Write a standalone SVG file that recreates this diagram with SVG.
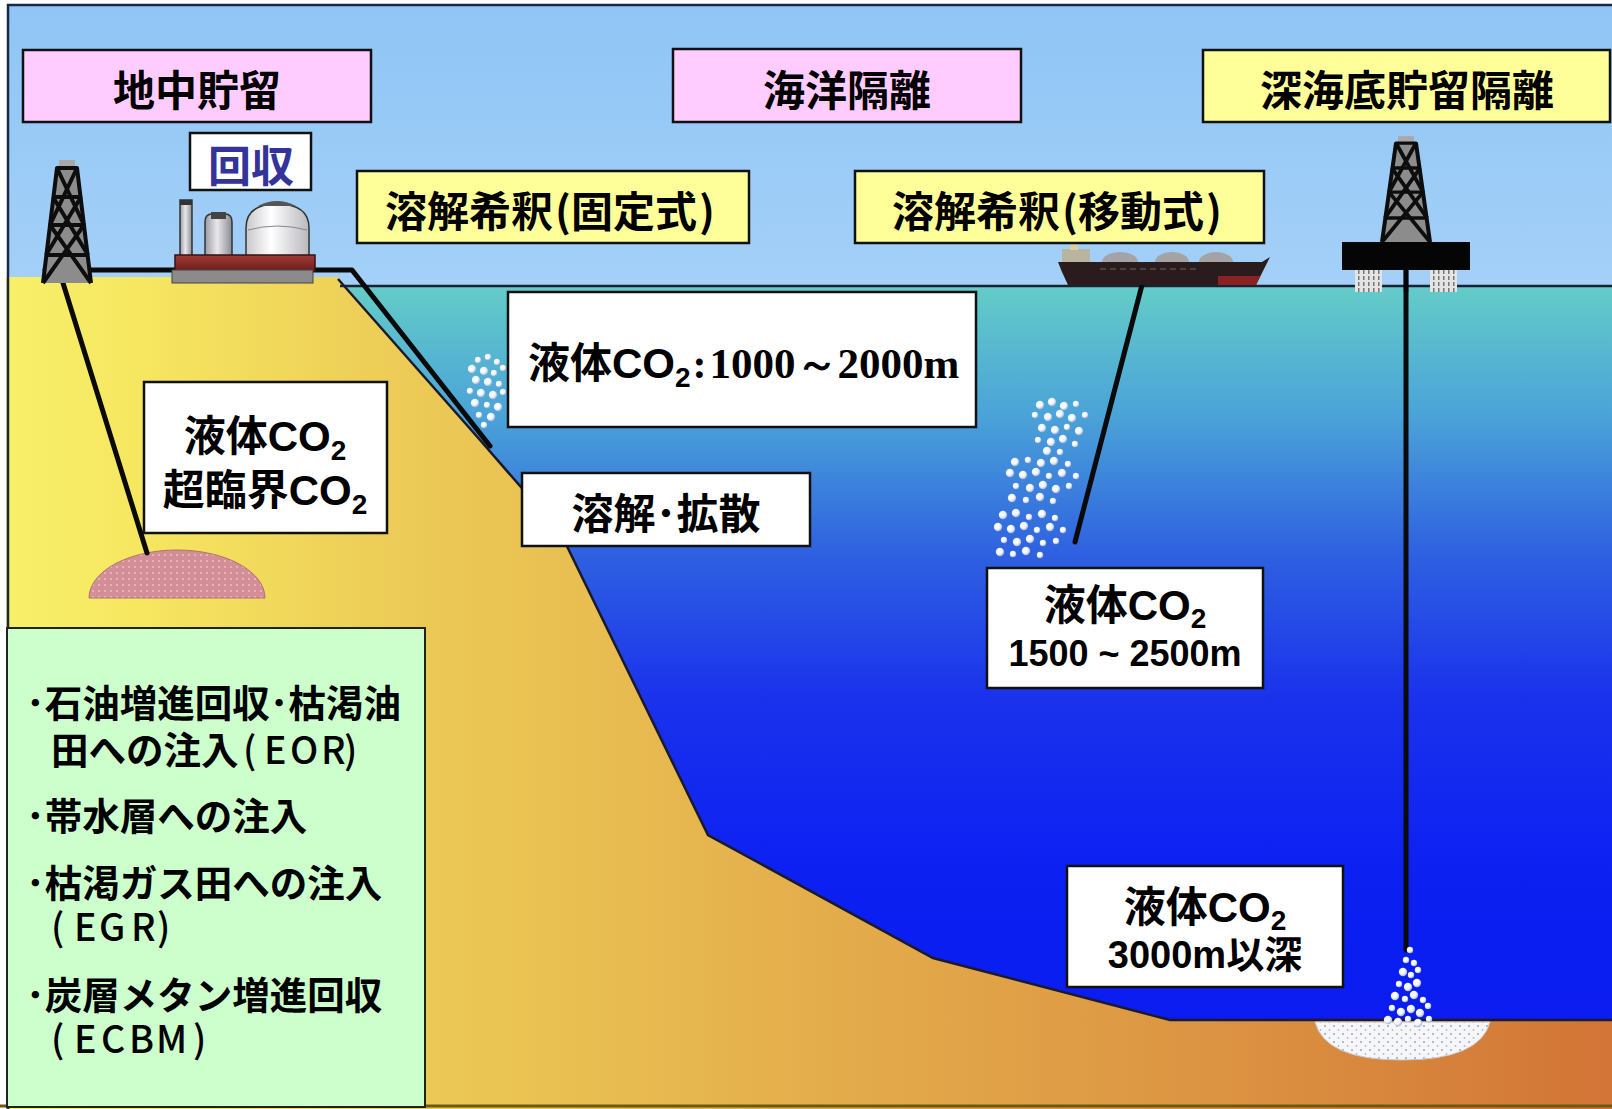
<svg xmlns="http://www.w3.org/2000/svg" width="1612" height="1109" viewBox="0 0 1612 1109">
  <defs>
    <style>
      .jp { font-family: "Noto Sans CJK JP", "Noto Sans CJK SC", sans-serif; font-weight: 700; fill: #000; }
      .lat { font-family: "Liberation Sans", Arial, sans-serif; font-weight: 700; }
      .ser { font-family: "Liberation Serif", "Times New Roman", serif; font-weight: 700; }
      .abbr { font-family: "Noto Sans CJK JP", sans-serif; font-weight: 500; }
      .box { stroke: #111; stroke-width: 2.5; }
      .pink { fill: #ffccff; }
      .yel { fill: #ffff99; }
      .wht { fill: #ffffff; }
      .pipe { fill: none; stroke: #0a0a0a; stroke-width: 5; stroke-linecap: round; stroke-linejoin: round; }
      .rig { fill: none; stroke: #0d0d0d; stroke-width: 4; stroke-linejoin: round; }
    </style>
    <linearGradient id="sky" x1="0" y1="0" x2="0" y2="1">
      <stop offset="0" stop-color="#8fc5f5"/>
      <stop offset="1" stop-color="#a4d0f8"/>
    </linearGradient>
    <linearGradient id="sea" gradientUnits="userSpaceOnUse" x1="0" y1="286" x2="0" y2="1020">
      <stop offset="0" stop-color="#64ccc8"/>
      <stop offset="0.18" stop-color="#4aa2d8"/>
      <stop offset="0.36" stop-color="#2f62e0"/>
      <stop offset="0.56" stop-color="#1a32ec"/>
      <stop offset="0.8" stop-color="#0c20f2"/>
      <stop offset="1" stop-color="#0a1cf0"/>
    </linearGradient>
    <linearGradient id="ground" gradientUnits="userSpaceOnUse" x1="0" y1="0" x2="1612" y2="0">
      <stop offset="0" stop-color="#f8f06a"/>
      <stop offset="0.09" stop-color="#f6e660"/>
      <stop offset="0.25" stop-color="#eccb56"/>
      <stop offset="0.5" stop-color="#e4ae4c"/>
      <stop offset="0.75" stop-color="#dc9442"/>
      <stop offset="1" stop-color="#d27436"/>
    </linearGradient>
    <linearGradient id="deck" x1="0" y1="0" x2="0" y2="1">
      <stop offset="0" stop-color="#a03a36"/>
      <stop offset="1" stop-color="#6e1e1e"/>
    </linearGradient>
    <linearGradient id="tank" x1="0" y1="0" x2="1" y2="0">
      <stop offset="0" stop-color="#9a9aa2"/>
      <stop offset="0.45" stop-color="#e8e8ec"/>
      <stop offset="1" stop-color="#8a8a92"/>
    </linearGradient>
    <linearGradient id="dome" x1="0" y1="0" x2="1" y2="0">
      <stop offset="0" stop-color="#c8c8cc"/>
      <stop offset="0.4" stop-color="#ffffff"/>
      <stop offset="1" stop-color="#b8b8be"/>
    </linearGradient>
    <radialGradient id="bub" cx="0.4" cy="0.4" r="0.6">
      <stop offset="0" stop-color="#ffffff"/>
      <stop offset="0.6" stop-color="#f0f4ff"/>
      <stop offset="1" stop-color="#9fb4d8"/>
    </radialGradient>
    <pattern id="dots" width="6" height="6" patternUnits="userSpaceOnUse">
      <rect width="6" height="6" fill="#d48e98"/>
      <circle cx="3" cy="3" r="1" fill="#e8c0c6"/>
    </pattern>
    <pattern id="speck" width="9" height="8" patternUnits="userSpaceOnUse">
      <rect width="9" height="8" fill="#f6f6f8"/>
      <circle cx="2" cy="2" r="1" fill="#9aa6b8"/>
      <circle cx="6.5" cy="6" r="0.9" fill="#b0bac8"/>
    </pattern>
    <pattern id="legs" width="5" height="6" patternUnits="userSpaceOnUse">
      <rect width="5" height="6" fill="#e4e4e4"/>
      <rect x="3" width="1.5" height="4" fill="#777"/>
    </pattern>
    <circle id="b" r="4.2" fill="url(#bub)"/>
    <circle id="bs" r="3.2" fill="url(#bub)"/>
    <!-- lattice derrick, base centred on origin -->
    <g id="derrick">
      <rect x="-8" y="-123" width="16" height="9" fill="#a8a8a8"/>
      <polygon points="-24,0 -10,-115 10,-115 24,0" fill="#8c8c8c"/>
      <polyline class="rig" points="-24,0 -10,-115 10,-115 24,0"/>
      <path class="rig" d="M-21,-28 H21 M-17,-58 H17 M-14,-86 H14"/>
      <path class="rig" stroke-width="3" d="M-24,0 L17,-58 M24,0 L-17,-58 M-17,-58 L10,-115 M17,-58 L-10,-115 M-21,-28 L14,-86 M21,-28 L-14,-86"/>
    </g>
  </defs>

  <!-- sky -->
  <rect x="8" y="5" width="1604" height="282" fill="url(#sky)"/>
  <!-- sea -->
  <rect x="300" y="286" width="1312" height="740" fill="url(#sea)"/>

  <!-- ground and seabed -->
  <g id="ground-body">
    <polygon fill="url(#ground)" points="6,277 338,277 480,440 560,532 708,835 933,958 1170,1020 1612,1020 1612,1109 6,1109"/>
    <polyline fill="none" stroke="#1a1a2a" stroke-width="2.5" points="338,279 480,440 560,532 708,835 933,958 1170,1020 1612,1020"/>
    <line x1="0" y1="1106" x2="1612" y2="1106" stroke="#6a5a12" stroke-width="3"/>
  </g>

  <!-- sea surface -->
  <line x1="340" y1="286" x2="1612" y2="286" stroke="#1c2030" stroke-width="2.5"/>

  <!-- frame -->
  <path d="M8,1109 V5 H1612" fill="none" stroke="#1a2848" stroke-width="2.5"/>

  <!-- CO2 reservoir under the land -->
  <path id="reservoir" d="M89,598 A88,48 0 0 1 265,598 Z" fill="url(#dots)" stroke="#b07070" stroke-width="1"/>

  <!-- CO2 lake on the deep seabed -->
  <path id="co2-lake" d="M1315,1022 H1490 Q1480,1060 1402,1060 Q1325,1060 1315,1022 Z" fill="url(#speck)" stroke="#c8c8d0" stroke-width="1"/>

  <!-- pipes -->
  <g id="connectors">
    <polyline class="pipe" points="45,270 352,270 490,446"/>
    <line class="pipe" x1="63" y1="283" x2="147" y2="553" stroke-width="4.5"/>
    <line class="pipe" x1="1142" y1="285" x2="1075" y2="542"/>
    <line class="pipe" x1="1406" y1="270" x2="1406" y2="950" stroke-width="4.5"/>
  </g>

  <!-- onshore derrick -->
  <g id="onshore-rig">
    <use href="#derrick" x="67" y="283"/>
  </g>

  <!-- capture plant -->
  <g id="capture-plant">
    <rect x="180" y="200" width="12" height="56" fill="url(#tank)" stroke="#333" stroke-width="1.5"/>
    <rect x="180" y="200" width="12" height="5" fill="#333"/>
    <path d="M205,256 V222 Q205,214 212,214 H225 Q232,214 232,222 V256 Z" fill="url(#tank)" stroke="#333" stroke-width="1.5"/>
    <rect x="211" y="212" width="15" height="7" fill="#444"/>
    <path d="M246,256 V228 Q246,204 277,204 Q309,204 309,228 V256 Z" fill="url(#dome)" stroke="#333" stroke-width="1.5"/>
    <path d="M258,206 Q277,196 296,206 Z" fill="#555"/>
    <path d="M248,230 Q277,222 307,230" fill="none" stroke="#888" stroke-width="1"/>
    <rect x="175" y="255" width="140" height="16" fill="url(#deck)" stroke="#3a1010" stroke-width="1.5"/>
    <rect x="172" y="270" width="141" height="13" fill="#8c8a8a" stroke="#444" stroke-width="1"/>
  </g>

  <!-- injection ship -->
  <g id="ship">
    <ellipse cx="1120" cy="262" rx="18" ry="10" fill="#a4a4a6"/>
    <ellipse cx="1172" cy="262" rx="17" ry="10" fill="#a4a4a6"/>
    <ellipse cx="1216" cy="262" rx="17" ry="10" fill="#a4a4a6"/>
    <rect x="1062" y="249" width="28" height="13" fill="#b8b4a0"/>
    <rect x="1070" y="244" width="8" height="6" fill="#d8d0a0"/>
    <polygon points="1058,262 1262,262 1270,257 1256,285 1068,285 1062,272" fill="#2a1c1c"/>
    <polygon points="1218,276 1260,276 1256,285 1218,285" fill="#8a2222"/>
    <line x1="1100" y1="269" x2="1200" y2="269" stroke="#6a6060" stroke-width="1" stroke-dasharray="6 4"/>
  </g>

  <!-- offshore platform -->
  <g id="offshore-platform">
    <use href="#derrick" transform="translate(1406,242) scale(1,0.86)"/>
    <rect x="1342" y="242" width="128" height="28" fill="#050505"/>
    <rect x="1355" y="270" width="27" height="22" fill="url(#legs)"/>
    <rect x="1430" y="270" width="27" height="22" fill="url(#legs)"/>
    <line x1="1406" y1="270" x2="1406" y2="292" stroke="#050505" stroke-width="4.5"/>
  </g>

  <!-- CO2 droplets -->
  <g id="droplets-fixed">
    <use href="#bs" x="478" y="360"/><use href="#bs" x="488" y="357"/><use href="#bs" x="497" y="362"/>
    <use href="#b" x="472" y="369"/><use href="#b" x="484" y="371"/><use href="#bs" x="494" y="373"/><use href="#bs" x="503" y="368"/>
    <use href="#b" x="476" y="380"/><use href="#b" x="488" y="382"/><use href="#bs" x="499" y="384"/>
    <use href="#bs" x="470" y="391"/><use href="#b" x="481" y="393"/><use href="#b" x="493" y="395"/><use href="#bs" x="503" y="392"/>
    <use href="#b" x="475" y="403"/><use href="#bs" x="487" y="405"/><use href="#b" x="498" y="407"/>
    <use href="#bs" x="479" y="415"/><use href="#b" x="491" y="417"/><use href="#bs" x="484" y="425"/>
  </g>
  <g id="droplets-moving">
    <use href="#b" x="1040" y="405"/><use href="#b" x="1052" y="402"/><use href="#b" x="1064" y="406"/><use href="#bs" x="1076" y="404"/>
    <use href="#bs" x="1035" y="415"/><use href="#b" x="1048" y="417"/><use href="#b" x="1060" y="414"/><use href="#b" x="1072" y="418"/><use href="#bs" x="1085" y="415"/>
    <use href="#b" x="1042" y="428"/><use href="#b" x="1055" y="430"/><use href="#bs" x="1067" y="427"/><use href="#b" x="1079" y="431"/>
    <use href="#bs" x="1038" y="440"/><use href="#b" x="1051" y="442"/><use href="#b" x="1063" y="439"/><use href="#bs" x="1075" y="444"/>
    <use href="#b" x="1047" y="451"/><use href="#bs" x="1060" y="452"/>
    <use href="#b" x="1015" y="462"/><use href="#bs" x="1028" y="460"/><use href="#b" x="1041" y="463"/><use href="#b" x="1054" y="461"/><use href="#bs" x="1068" y="464"/>
    <use href="#b" x="1010" y="473"/><use href="#b" x="1023" y="475"/><use href="#b" x="1036" y="472"/><use href="#bs" x="1049" y="476"/><use href="#b" x="1062" y="473"/><use href="#bs" x="1076" y="476"/>
    <use href="#bs" x="1016" y="486"/><use href="#b" x="1030" y="488"/><use href="#b" x="1043" y="485"/><use href="#b" x="1056" y="489"/><use href="#bs" x="1069" y="486"/>
    <use href="#b" x="1012" y="498"/><use href="#bs" x="1026" y="500"/><use href="#b" x="1040" y="497"/><use href="#bs" x="1053" y="501"/>
    <use href="#b" x="1003" y="515"/><use href="#b" x="1016" y="513"/><use href="#bs" x="1029" y="517"/><use href="#b" x="1042" y="514"/><use href="#bs" x="1055" y="518"/>
    <use href="#b" x="998" y="527"/><use href="#b" x="1011" y="529"/><use href="#b" x="1024" y="526"/><use href="#bs" x="1037" y="530"/><use href="#b" x="1050" y="527"/><use href="#bs" x="1063" y="530"/>
    <use href="#bs" x="1004" y="540"/><use href="#b" x="1017" y="542"/><use href="#b" x="1030" y="539"/><use href="#bs" x="1043" y="543"/><use href="#bs" x="1056" y="541"/>
    <use href="#b" x="1000" y="552"/><use href="#bs" x="1013" y="554"/><use href="#b" x="1026" y="551"/><use href="#bs" x="1040" y="555"/>
  </g>
  <g id="droplets-deep">
    <use href="#bs" x="1410" y="950"/><use href="#bs" x="1406" y="960"/><use href="#bs" x="1414" y="963"/>
    <use href="#b" x="1403" y="972"/><use href="#bs" x="1411" y="975"/><use href="#bs" x="1418" y="970"/>
    <use href="#bs" x="1399" y="984"/><use href="#b" x="1408" y="987"/><use href="#b" x="1417" y="983"/>
    <use href="#b" x="1395" y="996"/><use href="#bs" x="1405" y="999"/><use href="#b" x="1414" y="995"/><use href="#bs" x="1423" y="1000"/>
    <use href="#bs" x="1392" y="1008"/><use href="#b" x="1401" y="1012"/><use href="#b" x="1411" y="1009"/><use href="#b" x="1420" y="1013"/><use href="#bs" x="1428" y="1006"/>
    <use href="#b" x="1388" y="1020"/><use href="#b" x="1398" y="1022"/><use href="#bs" x="1408" y="1019"/><use href="#b" x="1418" y="1023"/><use href="#bs" x="1429" y="1019"/>
  </g>

  <!-- labels -->
  <g id="label-geological">
    <rect class="box pink" x="23" y="50" width="348" height="72"/>
    <text class="jp" x="197" y="106" font-size="42" text-anchor="middle">地中貯留</text>
  </g>
  <g id="label-ocean">
    <rect class="box pink" x="673" y="49" width="348" height="73"/>
    <text class="jp" x="847" y="106" font-size="42" text-anchor="middle">海洋隔離</text>
  </g>
  <g id="label-deep-seabed">
    <rect class="box yel" x="1203" y="50" width="407" height="72"/>
    <text class="jp" x="1407" y="106" font-size="42" text-anchor="middle">深海底貯留隔離</text>
  </g>
  <g id="label-capture">
    <rect class="box wht" x="190" y="133" width="121" height="57"/>
    <text class="jp" x="251" y="182" font-size="43" text-anchor="middle" style="fill:#333399">回収</text>
  </g>
  <g id="label-fixed">
    <rect class="box yel" x="357" y="171" width="392" height="72"/>
    <text class="jp" x="550" y="227" font-size="42" text-anchor="middle">溶解希釈<tspan dx="2">(</tspan>固定式<tspan dx="2">)</tspan></text>
  </g>
  <g id="label-moving">
    <rect class="box yel" x="855" y="171" width="409" height="72"/>
    <text class="jp" x="1057" y="227" font-size="42" text-anchor="middle">溶解希釈<tspan dx="2">(</tspan>移動式<tspan dx="2">)</tspan></text>
  </g>
  <g id="label-mid-depth">
    <rect class="box wht" x="508" y="292" width="468" height="135"/>
    <text class="jp" x="528" y="378" font-size="42">液体<tspan class="lat">CO</tspan><tspan class="lat" font-size="28" dy="9">2</tspan><tspan class="ser" dy="-9" dx="2">:</tspan><tspan class="ser" font-size="43" dx="3">1000</tspan><tspan class="ser" font-size="42">～</tspan><tspan class="ser" font-size="43">2000m</tspan></text>
  </g>
  <g id="label-supercritical">
    <rect class="box wht" x="144" y="382" width="243" height="151"/>
    <text class="jp" x="265" y="451" font-size="42" text-anchor="middle">液体<tspan class="lat">CO</tspan><tspan class="lat" font-size="28" dy="9">2</tspan></text>
    <text class="jp" x="265" y="505" font-size="42" text-anchor="middle">超臨界<tspan class="lat">CO</tspan><tspan class="lat" font-size="28" dy="9">2</tspan></text>
  </g>
  <g id="label-dissolution">
    <rect class="box wht" x="522" y="473" width="288" height="73"/>
    <text class="jp" x="666" y="529" font-size="42" text-anchor="middle">溶解･拡散</text>
  </g>
  <g id="label-1500">
    <rect class="box wht" x="987" y="568" width="276" height="120"/>
    <text class="jp" x="1125" y="620" font-size="42" text-anchor="middle">液体<tspan class="lat">CO</tspan><tspan class="lat" font-size="28" dy="8">2</tspan></text>
    <text class="lat" x="1125" y="666" font-size="36" text-anchor="middle">1500 ~ 2500m</text>
  </g>
  <g id="label-3000">
    <rect class="box wht" x="1067" y="866" width="276" height="121"/>
    <text class="jp" x="1205" y="922" font-size="42" text-anchor="middle">液体<tspan class="lat">CO</tspan><tspan class="lat" font-size="28" dy="8">2</tspan></text>
    <text class="lat" x="1205" y="968" font-size="38" text-anchor="middle">3000m<tspan class="jp">以深</tspan></text>
  </g>
  <g id="label-options">
    <rect x="7" y="628" width="418" height="479" fill="#ccffcc" stroke="#222" stroke-width="2"/>
    <g class="jp" font-size="37.5">
      <text x="26" y="717">･石油増進回収･枯渇油</text>
      <text y="764"><tspan x="51">田への注入</tspan><tspan x="243" class="abbr">(</tspan><tspan x="264" class="abbr">E</tspan><tspan x="290" class="abbr">O</tspan><tspan x="321" class="abbr">R</tspan><tspan x="344" class="abbr">)</tspan></text>
      <text x="26" y="830">･帯水層への注入</text>
      <text x="26" y="897">･枯渇ガス田への注入</text>
      <text y="941"><tspan x="51" class="abbr">(</tspan><tspan x="74" class="abbr">E</tspan><tspan x="99" class="abbr">G</tspan><tspan x="131" class="abbr">R</tspan><tspan x="157" class="abbr">)</tspan></text>
      <text x="26" y="1009">･炭層メタン増進回収</text>
      <text y="1053"><tspan x="51" class="abbr">(</tspan><tspan x="74" class="abbr">E</tspan><tspan x="101" class="abbr">C</tspan><tspan x="129" class="abbr">B</tspan><tspan x="156" class="abbr">M</tspan><tspan x="193" class="abbr">)</tspan></text>
    </g>
  </g>
</svg>
